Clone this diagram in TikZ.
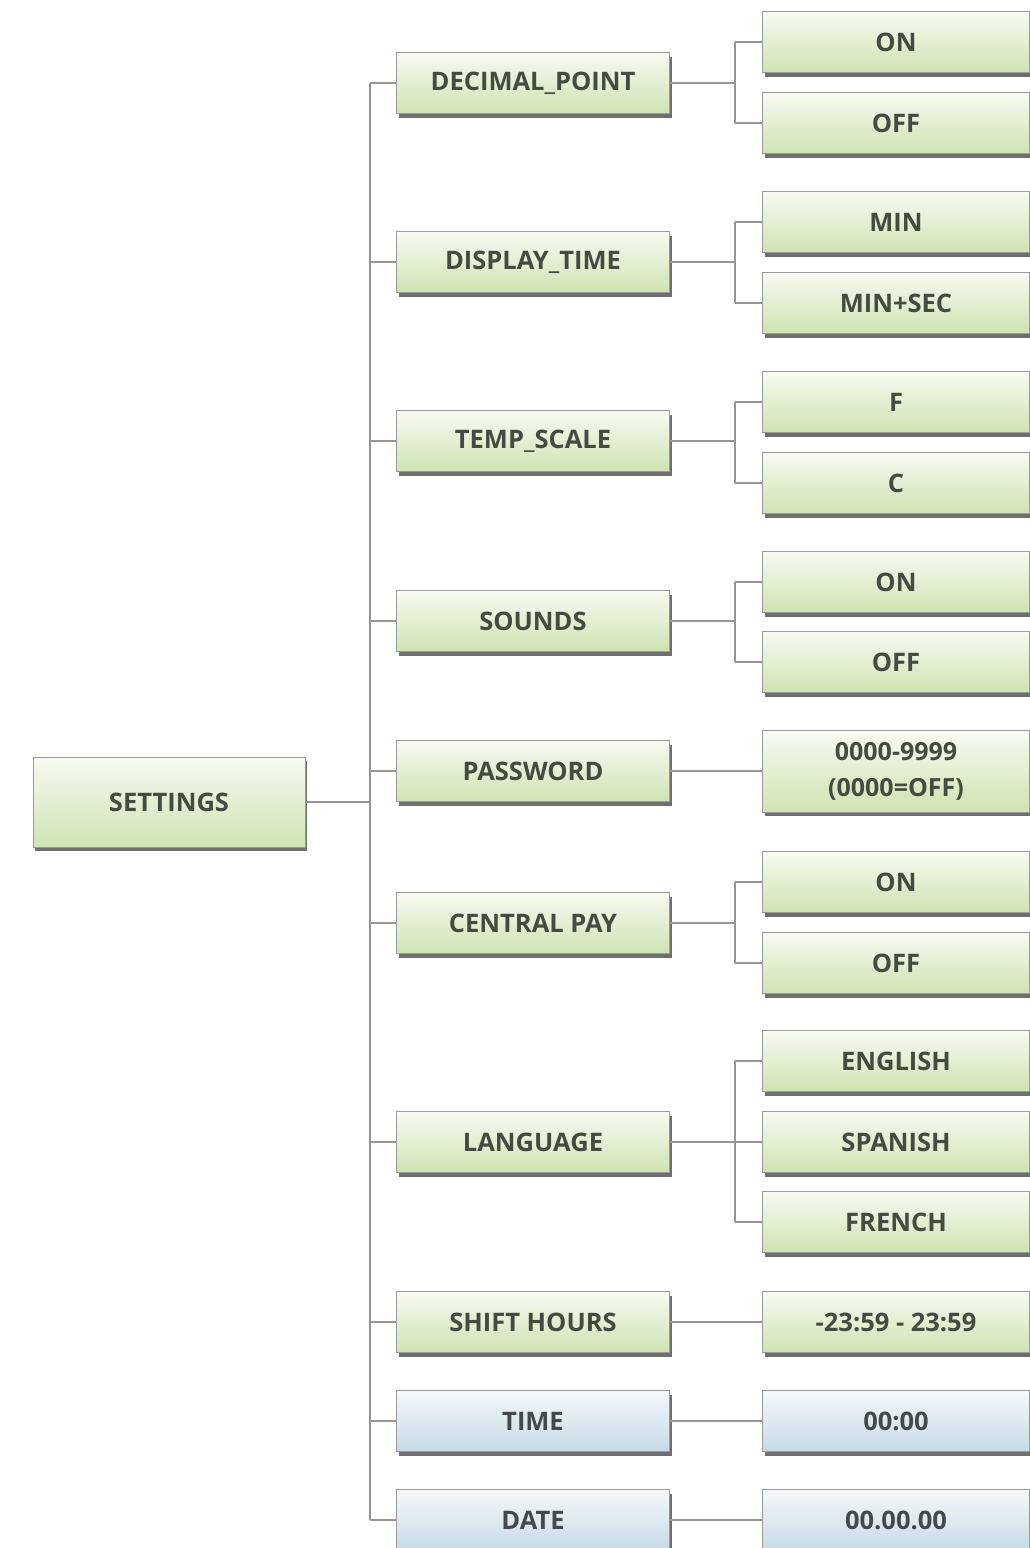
\documentclass[tikz,border=0pt]{standalone}
\usepackage{fontspec}
\setmainfont{Open Sans}
\usetikzlibrary{shadows,calc}
\definecolor{gbot}{HTML}{CFE3B2}
\definecolor{gtop}{HTML}{F7FAF2}
\definecolor{bbot}{HTML}{C6DAE6}
\definecolor{btop}{HTML}{F5F8FA}
\definecolor{txt}{HTML}{434C3E}
\definecolor{btxt}{HTML}{43494F}
\definecolor{edge}{HTML}{9A9A9A}
\definecolor{conn}{HTML}{959595}
\tikzset{
  box/.style={draw=edge, line width=0.8pt, top color=gtop, bottom color=gbot,
    minimum width=273pt, minimum height=61pt, inner sep=0pt, align=center,
    font=\bfseries\fontsize{25.5}{30}\selectfont, text=txt,
    drop shadow={shadow xshift=2pt, shadow yshift=-4pt, fill=black!70, opacity=0.8}},
  bbox/.style={box, top color=btop, bottom color=bbot, text=btxt},
  rbox/.style={box, minimum width=267pt},
  rbbox/.style={bbox, minimum width=267pt},
  conline/.style={draw=conn, line width=1.6pt}
}
\begin{document}
\begin{tikzpicture}[x=1pt,y=-1pt]
\useasboundingbox (0,0) rectangle (1030,1548);
\fill[white] (0,0) rectangle (1030,1548);
\coordinate (trunk) at (370,0);
\coordinate (sub) at (735,0);
% root
\node[box, minimum width=272pt, minimum height=90pt] (set) at (169,802) {SETTINGS};
% middle column
\node[box] (dp) at (533,83) {DECIMAL\_POINT};
\node[box] (dt) at (533,262) {DISPLAY\_TIME};
\node[box] (ts) at (533,441) {TEMP\_SCALE};
\node[box] (snd) at (533,621) {SOUNDS};
\node[box] (pw) at (533,771) {PASSWORD};
\node[box] (cp) at (533,923) {CENTRAL PAY};
\node[box] (lang) at (533,1142) {LANGUAGE};
\node[box] (sh) at (533,1322) {SHIFT HOURS};
\node[bbox] (time) at (533,1421) {TIME};
\node[bbox] (date) at (533,1520) {DATE};
% right column
\node[rbox] (dp1) at (896,42) {ON};
\node[rbox] (dp2) at (896,123) {OFF};
\node[rbox] (dt1) at (896,222) {MIN};
\node[rbox] (dt2) at (896,303) {MIN+SEC};
\node[rbox] (ts1) at (896,402) {F};
\node[rbox] (ts2) at (896,483) {C};
\node[rbox] (snd1) at (896,582) {ON};
\node[rbox] (snd2) at (896,662) {OFF};
\node[rbox, minimum height=82pt, font=\bfseries\fontsize{25}{36}\selectfont] (pw1) at (896,771) {0000-9999\\(0000=OFF)};
\node[rbox] (cp1) at (896,882) {ON};
\node[rbox] (cp2) at (896,963) {OFF};
\node[rbox] (lang1) at (896,1061) {ENGLISH};
\node[rbox] (lang2) at (896,1142) {SPANISH};
\node[rbox] (lang3) at (896,1222) {FRENCH};
\node[rbox] (sh1) at (896,1322) {-23:59 - 23:59};
\node[rbbox] (time1) at (896,1421) {00:00};
\node[rbbox] (date1) at (896,1520) {00.00.00};
% trunk connectors
\draw[conline] (set.east) -- (set.east -| trunk);
\draw[conline] (dp.west -| trunk) -- (date.west -| trunk);
\foreach \m in {dp,dt,ts,snd,pw,cp,lang,sh,time,date}{
  \draw[conline] (\m.west) -- (\m.west -| trunk);
}
% sub connectors (two or more children)
\foreach \m/\a/\b in {dp/dp1/dp2, dt/dt1/dt2, ts/ts1/ts2, snd/snd1/snd2, cp/cp1/cp2, lang/lang1/lang3}{
  \draw[conline] (\m.east) -- (\m.east -| sub);
  \draw[conline] (\a.west -| sub) -- (\b.west -| sub);
}
\foreach \c in {dp1,dp2,dt1,dt2,ts1,ts2,snd1,snd2,cp1,cp2,lang1,lang2,lang3}{
  \draw[conline] (\c.west) -- (\c.west -| sub);
}
% single children
\draw[conline] (pw.east) -- (pw1.west);
\draw[conline] (sh.east) -- (sh1.west);
\draw[conline] (time.east) -- (time1.west);
\draw[conline] (date.east) -- (date1.west);
\end{tikzpicture}
\end{document}
